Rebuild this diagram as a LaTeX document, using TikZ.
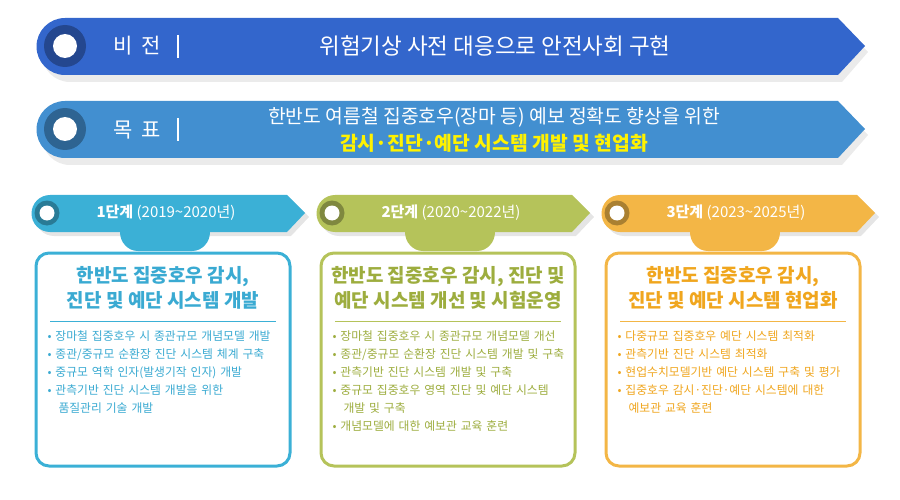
\documentclass[tikz,border=0pt]{standalone}
\usepackage{fontspec}
\setmainfont{Noto Sans CJK KR}
\usetikzlibrary{calc}
\definecolor{vision}{HTML}{3366CC}
\definecolor{goal}{HTML}{428FD0}
\definecolor{phaseA}{HTML}{3BB0D6}
\definecolor{phaseB}{HTML}{B5C35A}
\definecolor{phaseC}{HTML}{F3B646}
\definecolor{textA}{HTML}{3AAAD2}
\definecolor{textB}{HTML}{9DAD3E}
\definecolor{textC}{HTML}{F0A61E}
\tikzset{
  banner/.style={fill=#1, draw=none},
  bulletlist/.style={anchor=north west, text width=250pt, font=\fontsize{11.8}{18}\selectfont, align=left},
  headtxt/.style={font=\bfseries\fontsize{19}{25}\selectfont, align=center},
}
\newcommand{\phasecol}[7]{% x, color, text color, label, title, items, name
  \fill[black!10] (#1+4,199) -- (#1+241,199) -- (#1+259,217) -- (#1+241,236) -- (#1+4,236) arc(90:270:18.5);
  \fill[#2] (#1,195) -- (#1+237,195) -- (#1+255,213) -- (#1+237,232) -- (#1,232) arc(90:270:18.5) -- cycle;
  \fill[#2!70!black] (#1-3,213) circle (12.5);
  \fill[white] (#1-3,213) circle (7.5);
  \node[white, font=\fontsize{15}{17}\selectfont] (lab#7) at (#1+116,213) {#4};
  \fill[#2] (#1+70,232) to[out=-90,in=180] (#1+88,251) -- (#1+142,251) to[out=0,in=-90] (#1+160,232) -- cycle;
  \draw[#2, line width=3pt, fill=white, rounded corners=13pt] (#1-14,253) rectangle (#1+240,466);
  \node[headtxt, text=#3] (title#7) at (#1+113,288) {#5};
  \draw[#2, line width=0.6pt] (#1,321) -- (#1+226,321);
  \node[bulletlist, text=#3] (items#7) at (#1-6,327) {#6};
}
\begin{document}
\begin{tikzpicture}[x=1pt,y=-1pt]
\useasboundingbox (0,0) rectangle (900,500);
% vision
\fill[black!8] (70,26) -- (842,26) -- (868,52) -- (842,82) -- (70,82) arc(90:270:28) -- cycle;
\fill[banner=vision] (65,18) -- (838,18) -- (865,46) -- (838,75) -- (65,75) arc(90:270:28.5) -- cycle;
\fill[vision!70!black] (65,46) circle (21);
\fill[white] (65,46) circle (12);
\node[white, font=\fontsize{21}{24}\selectfont] (vlabel) at (137,46) {비\, 전};
\draw[white, line width=1.5pt] (178,35) -- (178,58);
\node[white, font=\fontsize{22.5}{26}\selectfont] (vtext) at (495,46) {위험기상 사전 대응으로 안전사회 구현};
% goal
\fill[black!8] (70,109) -- (842,109) -- (868,135) -- (842,165) -- (70,165) arc(90:270:28) -- cycle;
\fill[banner=goal] (65,101) -- (838,101) -- (865,129) -- (838,158) -- (65,158) arc(90:270:28.5) -- cycle;
\fill[goal!70!black] (65,129) circle (21);
\fill[white] (65,129) circle (12);
\node[white, font=\fontsize{21}{24}\selectfont] (glabel) at (137,130) {목\, 표};
\draw[white, line width=1.5pt] (178,118) -- (178,141);
\node[white, font=\fontsize{19.3}{22}\selectfont] (gline1) at (494,117) {한반도 여름철 집중호우(장마 등) 예보 정확도 향상을 위한};
\node[yellow, font=\bfseries\fontsize{19.3}{22}\selectfont] (gline2) at (494,143) {감시·진단·예단 시스템 개발 및 현업화};
% phases
\phasecol{50}{phaseA}{textA}{\textbf{1단계} (2019\textasciitilde2020년)}{한반도 집중호우 감시,\\진단 및 예단 시스템 개발}{%
• 장마철 집중호우 시 종관규모 개념모델 개발\\
• 종관/중규모 순환장 진단 시스템 체계 구축\\
• 중규모 역학 인자(발생기작 인자) 개발\\
• 관측기반 진단 시스템 개발을 위한\\\hspace*{11pt}품질관리 기술 개발}{A}
\phasecol{335}{phaseB}{textB}{\textbf{2단계} (2020\textasciitilde2022년)}{한반도 집중호우 감시, 진단 및\\예단 시스템 개선 및 시험운영}{%
• 장마철 집중호우 시 종관규모 개념모델 개선\\
• 종관/중규모 순환장 진단 시스템 개발 및 구축\\
• 관측기반 진단 시스템 개발 및 구축\\
• 중규모 집중호우 영역 진단 및 예단 시스템\\\hspace*{11pt}개발 및 구축\\
• 개념모델에 대한 예보관 교육 훈련}{B}
\phasecol{620}{phaseC}{textC}{\textbf{3단계} (2023\textasciitilde2025년)}{한반도 집중호우 감시,\\진단 및 예단 시스템 현업화}{%
• 다중규모 집중호우 예단 시스템 최적화\\
• 관측기반 진단 시스템 최적화\\
• 현업수치모델기반 예단 시스템 구축 및 평가\\
• 집중호우 감시·진단·예단 시스템에 대한\\\hspace*{11pt}예보관 교육 훈련}{C}
\end{tikzpicture}
\end{document}
